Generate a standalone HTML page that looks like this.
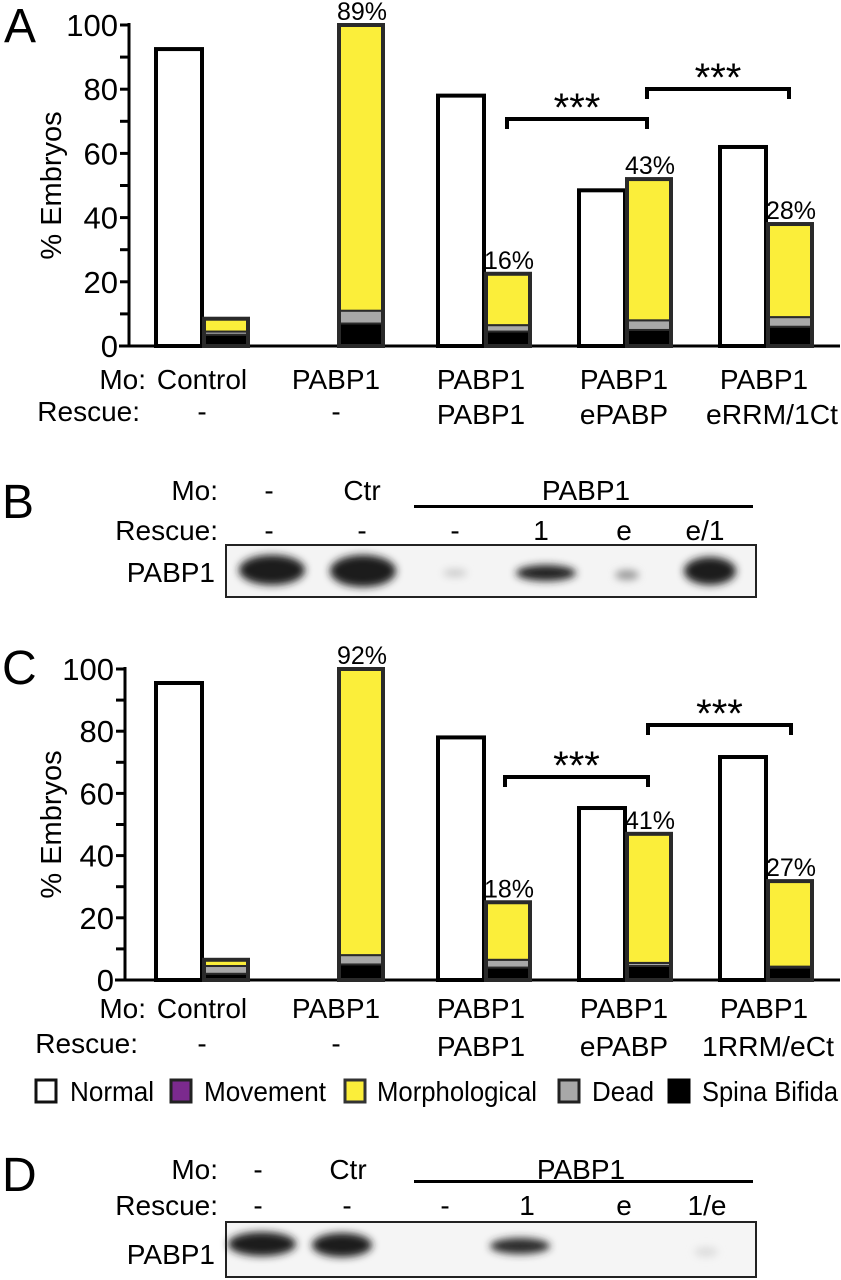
<!DOCTYPE html>
<html><head><meta charset="utf-8"><style>
html,body{margin:0;padding:0;background:#fff;}
svg{display:block;}
text{font-family:"Liberation Sans",Arial,sans-serif;fill:#000;}
.n{font-family:"Liberation Sans Narrow","Liberation Sans",Arial,sans-serif;font-size:28px;}
</style></head><body>
<svg id="fig" width="841" height="1280" viewBox="0 0 841 1280" xmlns="http://www.w3.org/2000/svg">
<defs>
<filter id="blur" x="-50%" y="-50%" width="200%" height="200%"><feGaussianBlur stdDeviation="4"/></filter>
</defs>
<g id="chartA"></g>
<g id="chartC"></g>

<text x="4" y="42" font-size="48">A</text>
<text x="2" y="684" font-size="48">C</text>

<g>
<text class="n" x="146" y="389" text-anchor="end">Mo:</text>
<text class="n" x="140" y="421" text-anchor="end">Rescue:</text>
<text class="n" x="202" y="389" text-anchor="middle">Control</text>
<text class="n" x="336" y="389" text-anchor="middle">PABP1</text>
<text class="n" x="481" y="389" text-anchor="middle">PABP1</text>
<text class="n" x="624" y="389" text-anchor="middle">PABP1</text>
<text class="n" x="764" y="389" text-anchor="middle">PABP1</text>
<text class="n" x="202" y="421" text-anchor="middle">-</text>
<text class="n" x="336" y="421" text-anchor="middle">-</text>
<text class="n" x="481" y="424" text-anchor="middle">PABP1</text>
<text class="n" x="624" y="424" text-anchor="middle">ePABP</text>
<text class="n" x="772" y="424" text-anchor="middle" textLength="132" lengthAdjust="spacingAndGlyphs">eRRM/1Ct</text>
</g>

<g>
<text x="2" y="518" font-size="48">B</text>
<text class="n" x="218" y="500" text-anchor="end">Mo:</text>
<text class="n" x="269" y="500" text-anchor="middle">-</text>
<text class="n" x="362" y="500" text-anchor="middle">Ctr</text>
<text class="n" x="586" y="500" text-anchor="middle">PABP1</text>
<rect x="414" y="505" width="339" height="3" fill="#000"/>
<text class="n" x="218" y="540" text-anchor="end">Rescue:</text>
<text class="n" x="269" y="540" text-anchor="middle">-</text>
<text class="n" x="362" y="540" text-anchor="middle">-</text>
<text class="n" x="455" y="540" text-anchor="middle">-</text>
<text class="n" x="541" y="540" text-anchor="middle">1</text>
<text class="n" x="624" y="540" text-anchor="middle">e</text>
<text class="n" x="705" y="540" text-anchor="middle">e/1</text>
<rect x="226" y="545" width="530" height="52" fill="#f4f4f4" stroke="#222" stroke-width="2"/>
<g filter="url(#blur)">
<ellipse cx="272" cy="570" rx="33" ry="15" fill="#1a1a1a"/>
<ellipse cx="363" cy="571" rx="33" ry="16" fill="#1a1a1a"/>
<ellipse cx="455" cy="573" rx="12" ry="4" fill="#ccc"/>
<ellipse cx="546" cy="573" rx="30" ry="8" fill="#222"/>
<ellipse cx="627" cy="575" rx="12" ry="5" fill="#999"/>
<ellipse cx="710" cy="571" rx="26" ry="14" fill="#1e1e1e"/>
</g>
<text class="n" x="215" y="582" text-anchor="end">PABP1</text>
</g>

<g>
<text class="n" x="146" y="1018" text-anchor="end">Mo:</text>
<text class="n" x="138" y="1053" text-anchor="end">Rescue:</text>
<text class="n" x="202" y="1018" text-anchor="middle">Control</text>
<text class="n" x="336" y="1018" text-anchor="middle">PABP1</text>
<text class="n" x="481" y="1018" text-anchor="middle">PABP1</text>
<text class="n" x="624" y="1018" text-anchor="middle">PABP1</text>
<text class="n" x="764" y="1018" text-anchor="middle">PABP1</text>
<text class="n" x="202" y="1053" text-anchor="middle">-</text>
<text class="n" x="336" y="1053" text-anchor="middle">-</text>
<text class="n" x="481" y="1056" text-anchor="middle">PABP1</text>
<text class="n" x="624" y="1056" text-anchor="middle">ePABP</text>
<text class="n" x="768" y="1056" text-anchor="middle" textLength="132" lengthAdjust="spacingAndGlyphs">1RRM/eCt</text>
</g>

<g>
<g><rect x="36" y="1080" width="20" height="22" fill="#fff" stroke="#111" stroke-width="3"/><text class="n" x="70" y="1101" textLength="84" lengthAdjust="spacingAndGlyphs">Normal</text></g>
<g><rect x="171" y="1080" width="20" height="22" fill="#7b2a8e" stroke="#222" stroke-width="3"/><text class="n" x="204" y="1101" textLength="122" lengthAdjust="spacingAndGlyphs">Movement</text></g>
<g><rect x="345" y="1080" width="20" height="22" fill="#fbee3a" stroke="#333" stroke-width="3"/><text class="n" x="377" y="1101" textLength="160" lengthAdjust="spacingAndGlyphs">Morphological</text></g>
<g><rect x="559" y="1080" width="20" height="22" fill="#a8a8a8" stroke="#222" stroke-width="3"/><text class="n" x="592" y="1101" textLength="62" lengthAdjust="spacingAndGlyphs">Dead</text></g>
<g><rect x="669" y="1080" width="20" height="22" fill="#000" stroke="#000" stroke-width="3"/><text class="n" x="702" y="1101" textLength="136" lengthAdjust="spacingAndGlyphs">Spina Bifida</text></g>
</g>

<g>
<text x="2" y="1191" font-size="48">D</text>
<text class="n" x="218" y="1179" text-anchor="end">Mo:</text>
<text class="n" x="258" y="1179" text-anchor="middle">-</text>
<text class="n" x="348" y="1179" text-anchor="middle">Ctr</text>
<text class="n" x="581" y="1179" text-anchor="middle">PABP1</text>
<rect x="414" y="1180" width="339" height="3" fill="#000"/>
<text class="n" x="218" y="1215" text-anchor="end">Rescue:</text>
<text class="n" x="258" y="1215" text-anchor="middle">-</text>
<text class="n" x="347" y="1215" text-anchor="middle">-</text>
<text class="n" x="445" y="1215" text-anchor="middle">-</text>
<text class="n" x="527" y="1215" text-anchor="middle">1</text>
<text class="n" x="624" y="1215" text-anchor="middle">e</text>
<text class="n" x="707" y="1215" text-anchor="middle">1/e</text>
<rect x="226" y="1222" width="530" height="55" fill="#f5f5f5" stroke="#222" stroke-width="2"/>
<g filter="url(#blur)">
<ellipse cx="262" cy="1244" rx="34" ry="12" fill="#1e1e1e"/>
<ellipse cx="342" cy="1245" rx="30" ry="12" fill="#1e1e1e"/>
<ellipse cx="520" cy="1246" rx="30" ry="8" fill="#2a2a2a"/>
<ellipse cx="706" cy="1252" rx="12" ry="5" fill="#ddd"/>
</g>
<text class="n" x="215" y="1264" text-anchor="end">PABP1</text>
</g>
</svg>
<script>
// Panel A data (% embryos)
const categoriesA = ["Control", "PABP1", "PABP1/PABP1", "PABP1/ePABP", "PABP1/eRRM-1Ct"];
const normalA = [92.5, 0, 78, 48.5, 62];
const spinaBifidaA = [3.5, 7, 4.5, 5, 6];
const deadA = [1, 4, 2, 3, 3];
const morphA = [4, 89, 16, 44, 29];
const pctLabelsA = ["", "89%", "16%", "43%", "28%"];
// Panel C data (% embryos)
const categoriesC = ["Control", "PABP1", "PABP1/PABP1", "PABP1/ePABP", "PABP1/1RRM-eCt"];
const normalC = [95.5, 0, 78, 55.3, 71.7];
const spinaBifidaC = [2, 5, 4, 4.5, 4];
const deadC = [2.5, 3, 2.5, 1, 0.3];
const morphC = [2, 92, 18.5, 41.5, 27.5];
const pctLabelsC = ["", "92%", "18%", "41%", "27%"];
const yTicks = [0, 20, 40, 60, 80, 100];

const NS = "http://www.w3.org/2000/svg";
function mk(parent, tag, attrs) {
  const e = document.createElementNS(NS, tag);
  for (const k in attrs) e.setAttribute(k, attrs[k]);
  parent.appendChild(e);
  return e;
}
function drawPanel(g, y0, y100, axisX, cats, normal, sb, dead, morph, labels, brackets) {
  const y = v => y0 - (y0 - y100) * v / 100;
  const cx = i => 202 + i * 141;
  const bw = 46;
  const ax = mk(g, "line", {x1: axisX, y1: y100 - 2, x2: axisX, y2: y0, stroke: "#000", "stroke-width": 3});
  
  
  const bx = mk(g, "line", {x1: axisX - 10, y1: y0, x2: 840, y2: y0, stroke: "#000", "stroke-width": 3});
  
  
  for (let v = 0; v <= 100; v += 10) {
    const t = mk(g, "line", {x1: axisX - 9, y1: y(v), x2: axisX, y2: y(v), stroke: "#000", "stroke-width": 3});
    
    
  }
  yTicks.forEach(v => {
    const t = mk(g, "text", {x: axisX - 11, y: y(v) + 11, "font-size": 31, "text-anchor": "end"});
    t.textContent = v;
    
    
  });
  const yt = mk(g, "text", {x: 0, y: 0, "font-size": 29, "text-anchor": "middle", transform: "translate(61," + ((y0 + y100) / 2) + ") rotate(-90)"});
  yt.textContent = "% Embryos";
  
  
  cats.forEach((c, i) => {
    const c0 = cx(i);
    if (normal[i] > 0) {
      const r = mk(g, "rect", {x: c0 - bw, y: y(normal[i]), width: bw, height: y0 - y(normal[i]), fill: "#fff", stroke: "#000", "stroke-width": 4});
      
      
    }
    const sx = i === 1 ? c0 - 6 : c0;
    let base = 0;
    const segs = [[sb[i], "#000", "bar-spina-bifida"], [dead[i], "#a8a8a8", "bar-dead"], [morph[i], "#fbee3a", "bar-morphological"]];
    segs.forEach(s => {
      const r = mk(g, "rect", {x: sx + 2, y: y(base + s[0]), width: bw - 2, height: y(base) - y(base + s[0]), fill: s[1], stroke: "#2a2a2a", "stroke-width": 2});
      
      
      base += s[0];
    });
    const o = mk(g, "rect", {x: sx + 2, y: y(base), width: bw - 2, height: y0 - y(base), fill: "none", stroke: "#2a2a2a", "stroke-width": 4});
    
    
    if (labels[i]) {
      const t = mk(g, "text", {x: sx + bw / 2 + 2, y: y(base) - 5, "font-size": 25, "text-anchor": "middle"});
      t.textContent = labels[i];
      
      
    }
  });
  brackets.forEach(b => {
    const p = mk(g, "path", {d: "M" + b[0] + " " + (b[2] + 10) + " V" + b[2] + " H" + b[1] + " V" + (b[2] + 10), fill: "none", stroke: "#000", "stroke-width": 4});
    
    
    const t = mk(g, "text", {x: (b[0] + b[1]) / 2, y: b[2] + 2, "font-size": 40, "text-anchor": "middle"});
    t.textContent = "***";
    
    
  });
}
drawPanel(document.getElementById("chartA"), 346, 25, 129, categoriesA, normalA, spinaBifidaA, deadA, morphA, pctLabelsA, [[507, 647, 119], [647, 789, 89]]);
drawPanel(document.getElementById("chartC"), 980, 669, 125, categoriesC, normalC, spinaBifidaC, deadC, morphC, pctLabelsC, [[505, 648, 777], [648, 791, 725]]);
</script>
</body></html>
